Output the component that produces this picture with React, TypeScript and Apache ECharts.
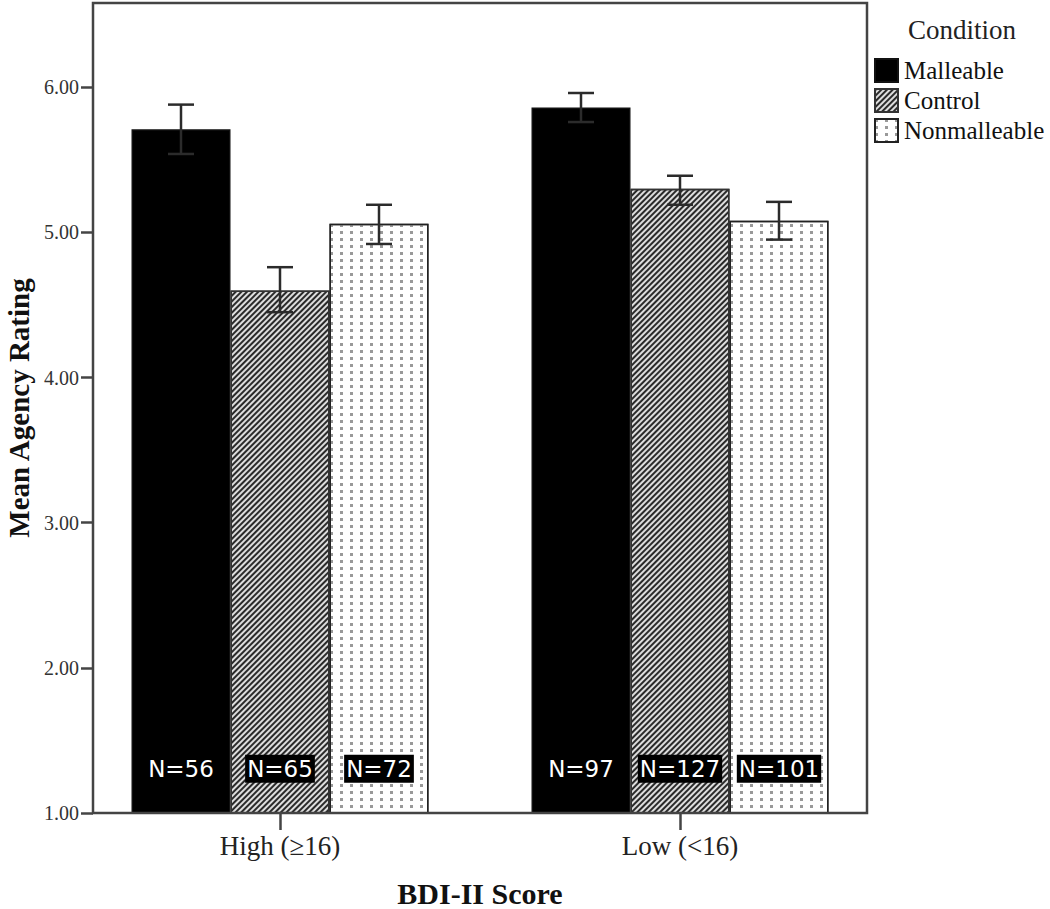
import React, { useEffect, useRef } from "react";
import * as echarts from "echarts";

const categories = ["High (≥16)", "Low (<16)"];
const conditions = ["Malleable", "Control", "Nonmalleable"];

const malleableMean = [5.71, 5.86];
const malleableLow = [5.54, 5.76];
const malleableHigh = [5.88, 5.96];
const malleableN = [56, 97];

const controlMean = [4.6, 5.3];
const controlLow = [4.45, 5.19];
const controlHigh = [4.76, 5.39];
const controlN = [65, 127];

const nonmalleableMean = [5.06, 5.08];
const nonmalleableLow = [4.92, 4.95];
const nonmalleableHigh = [5.19, 5.21];
const nonmalleableN = [72, 101];

const yTicks = [1, 2, 3, 4, 5, 6];

const SERIF = "'Liberation Serif', 'Times New Roman', serif";
const BAR_W = 99;

export default function App() {
  const ref = useRef<HTMLDivElement>(null);

  useEffect(() => {
    if (!ref.current) return;
    const chart = echarts.init(ref.current, null, { renderer: "svg" });

    const means = [malleableMean, controlMean, nonmalleableMean];
    const lows = [malleableLow, controlLow, nonmalleableLow];
    const highs = [malleableHigh, controlHigh, nonmalleableHigh];
    const ns = [malleableN, controlN, nonmalleableN];

    const styles: any[] = [
      { color: "#000", borderColor: "#111", borderWidth: 1.5 },
      {
        color: "#ddd",
        borderColor: "#333",
        borderWidth: 1.5,
        decal: {
          symbol: "rect",
          symbolSize: 1,
          color: "#2a2a2a",
          dashArrayX: [1, 0],
          dashArrayY: [2, 2],
          rotation: -Math.PI / 4,
        },
      },
      {
        color: "#fff",
        borderColor: "#222",
        borderWidth: 1.5,
        decal: {
          symbol: "rect",
          symbolSize: 1,
          color: "#999",
          dashArrayX: [3, 7],
          dashArrayY: [3, 4],
          rotation: 0,
        },
      },
    ];

    const barSeries = conditions.map((name, k) => ({
      name,
      type: "bar",
      data: means[k],
      barWidth: BAR_W,
      barGap: "0%",
      itemStyle: styles[k],
      label: {
        show: true,
        position: "insideBottom",
        distance: 31,
        formatter: (p: any) => "N=" + ns[k][p.dataIndex],
        backgroundColor: "#000",
        color: "#fff",
        fontFamily: "'DejaVu Sans', sans-serif",
        fontSize: 23,
        padding: [3, 2, 2, 2],
      },
      z: 2,
    }));

    const errData: number[][] = [];
    conditions.forEach((_, k) => {
      categories.forEach((_, i) => {
        errData.push([i, lows[k][i], highs[k][i], k - 1]);
      });
    });

    const errSeries = {
      type: "custom",
      name: "err",
      data: errData,
      encode: { x: 0, y: [1, 2] },
      z: 5,
      silent: true,
      renderItem: (params: any, api: any) => {
        const ci = api.value(0);
        const lo = api.value(1);
        const hi = api.value(2);
        const off = api.value(3);
        const pLo = api.coord([ci, lo]);
        const pHi = api.coord([ci, hi]);
        const x = pLo[0] + off * BAR_W;
        const cap = 13;
        const st = { stroke: "#2b2b2b", lineWidth: 2.5 };
        return {
          type: "group",
          children: [
            { type: "line", shape: { x1: x, y1: pLo[1], x2: x, y2: pHi[1] }, style: st },
            { type: "line", shape: { x1: x - cap, y1: pHi[1], x2: x + cap, y2: pHi[1] }, style: st },
            { type: "line", shape: { x1: x - cap, y1: pLo[1], x2: x + cap, y2: pLo[1] }, style: st },
          ],
        };
      },
    };

    chart.setOption({
      animation: false,
      backgroundColor: "#fff",
      title: {
        text: "Condition",
        left: 903,
        top: 11,
        textStyle: { fontFamily: SERIF, fontSize: 27, fontWeight: "normal", color: "#222" },
      },
      legend: {
        data: conditions,
        orient: "vertical",
        left: 869,
        top: 53,
        itemWidth: 23,
        itemHeight: 23,
        itemGap: 5,
        icon: "rect",
        textStyle: { fontFamily: SERIF, fontSize: 25, color: "#111", padding: [0, 0, 0, 1] },
      },
      grid: { left: 80, right: 170, top: 3, bottom: 96, outerBoundsMode: "none", containLabel: false },
      xAxis: {
        type: "category",
        data: categories,
        axisLine: { show: false },
        axisTick: { show: true, alignWithLabel: true, length: 17, lineStyle: { color: "#444", width: 2.5 } },
        axisLabel: { fontFamily: SERIF, fontSize: 27, color: "#222", margin: 19 },
        name: "BDI-II Score",
        nameLocation: "middle",
        nameGap: 65,
        nameTextStyle: { fontFamily: SERIF, fontSize: 30, fontWeight: "bold", color: "#111" },
      },
      yAxis: {
        type: "value",
        min: 1,
        max: 6.58,
        interval: 1,
        offset: -13,
        splitLine: { show: false },
        axisLine: { show: false },
        axisTick: { show: true, length: 12, customValues: yTicks, lineStyle: { color: "#444", width: 2.5 } },
        axisLabel: {
          customValues: yTicks,
          formatter: (v: number) => v.toFixed(2),
          fontFamily: SERIF,
          fontSize: 20,
          color: "#333",
          margin: 14,
        },
        name: "Mean Agency Rating",
        nameLocation: "middle",
        nameGap: 60,
        nameTextStyle: { fontFamily: SERIF, fontSize: 29, fontWeight: "bold", color: "#111" },
      },
      graphic: [
        {
          type: "rect",
          shape: { x: 93, y: 3, width: 774, height: 810 },
          style: { fill: "none", stroke: "#444", lineWidth: 2.5 },
          z: 100,
          silent: true,
        },
      ],
      series: [...barSeries, errSeries],
    });

    return () => chart.dispose();
  }, []);

  return (
    <div
      ref={ref}
      style={{ position: "absolute", left: 0, top: 0, width: 1050, height: 909 }}
    />
  );
}
